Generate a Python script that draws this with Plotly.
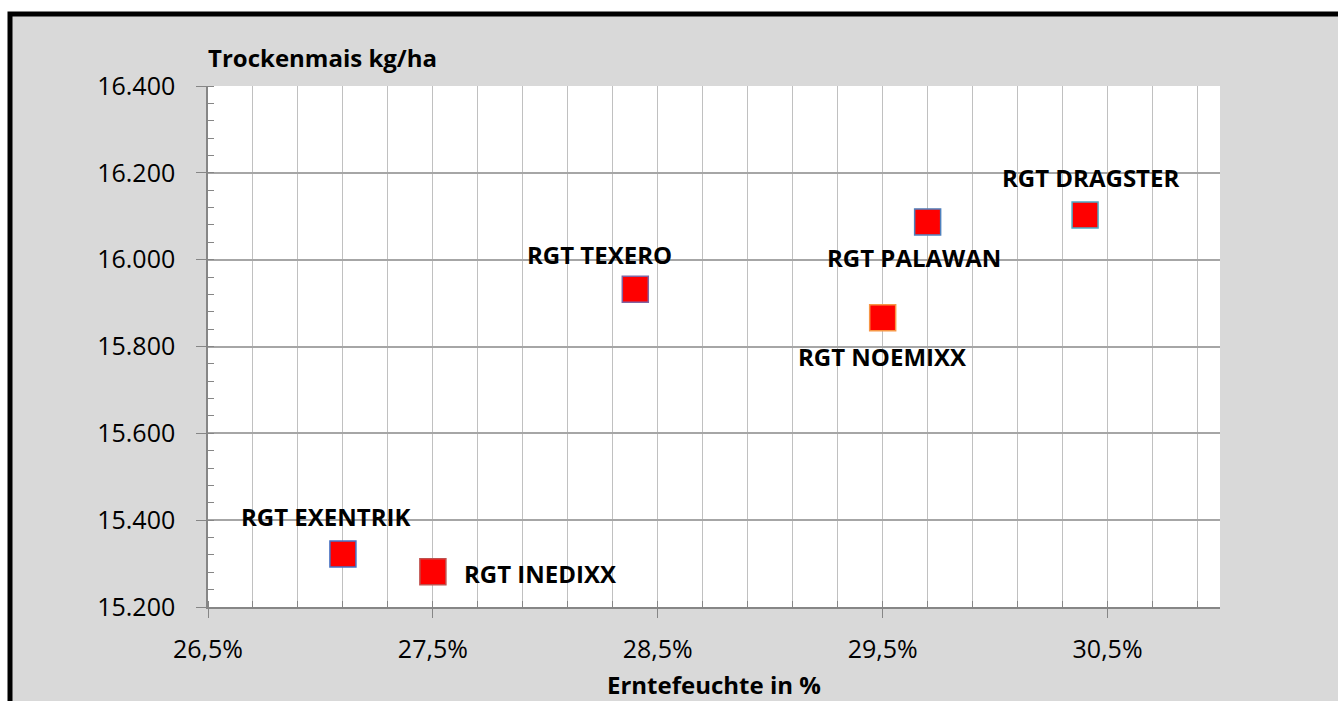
import plotly.graph_objects as go

# Data
varieties = ["RGT EXENTRIK", "RGT INEDIXX", "RGT TEXERO", "RGT NOEMIXX", "RGT PALAWAN", "RGT DRAGSTER"]
moisture = [27.1, 27.5, 28.4, 29.5, 29.7, 30.4]          # Erntefeuchte in %
yield_kg = [15322, 15281, 15932, 15866, 16087, 16103]    # Trockenmais kg/ha
outline_colors = ["#4472C4", "#C0504D", "#8064A2", "#F79646", "#4F81BD", "#4BACC6"]

# label offsets (pixels) relative to each marker
label_dx = [-17, 29, -36, 0, -14, 5]
label_dy = [38, -2, 35, -39, -36, 37]
label_anchor = ["center", "left", "center", "center", "center", "center"]

W, H = 1338, 701
L, R, T, B = 208, 118, 86, 94
pw, ph = W - L - R, H - T - B

def px_x(p):
    return (p - L) / pw

def px_y(p):
    return 1 - (p - T) / ph

FONT = "Open Sans"
LBL = 24
TCK = 25

fig = go.Figure()
fig.add_trace(go.Scatter(
    x=moisture, y=yield_kg, mode="markers",
    marker=dict(symbol="square", size=26, color="#FF0000",
                line=dict(color=outline_colors, width=1.5)),
    hoverinfo="skip", showlegend=False,
))

annotations = []
for name, xv, yv, dx, dy, anc in zip(varieties, moisture, yield_kg, label_dx, label_dy, label_anchor):
    annotations.append(dict(x=xv, y=yv, xref="x", yref="y", text="<b>" + name + "</b>", showarrow=False,
                            xshift=dx, yshift=dy, xanchor=anc, yanchor="middle",
                            font=dict(family=FONT, size=LBL, color="#000000")))

annotations.append(dict(x=px_x(206), y=1, xref="paper", yref="paper", text="<b>Trockenmais kg/ha</b>",
                        showarrow=False, xanchor="left", yanchor="middle", yshift=86 - 57,
                        font=dict(family=FONT, size=LBL, color="#000000")))
annotations.append(dict(x=0.5, y=0, xref="paper", yref="paper", text="<b>Erntefeuchte in %</b>",
                        showarrow=False, xanchor="center", yanchor="middle", yshift=-(684 - 607),
                        font=dict(family=FONT, size=LBL, color="#000000")))

shapes = [
    dict(type="rect", xref="paper", yref="paper", layer="below",
         x0=px_x(10), x1=px_x(W + 20), y0=px_y(H + 20), y1=px_y(14),
         fillcolor="#D9D9D9", line=dict(color="#000000", width=5)),
    dict(type="rect", xref="paper", yref="paper", layer="below",
         x0=0, x1=1, y0=0, y1=1, fillcolor="#FFFFFF", line=dict(width=0)),
]

fig.update_layout(
    width=W, height=H,
    margin=dict(l=L, r=R, t=T, b=B, pad=0),
    paper_bgcolor="#FFFFFF", plot_bgcolor="#FFFFFF",
    separators=",.",
    font=dict(family=FONT, size=TCK, color="#000000"),
    annotations=annotations, shapes=shapes,
    xaxis=dict(range=[26.5, 31.0], tick0=26.5, dtick=1, tickformat=".1f", ticksuffix="%",
               ticks="outside", ticklen=9, tickcolor="#868686", tickwidth=1,
               ticklabelstandoff=10,
               showline=True, linecolor="#868686", linewidth=1.5,
               showgrid=True, gridcolor="#C0C0C0", gridwidth=1, zeroline=False,
               minor=dict(tick0=26.5, dtick=0.2, ticks="inside", ticklen=6, tickcolor="#868686",
                          showgrid=True, gridcolor="#C0C0C0", gridwidth=1),
               tickfont=dict(family=FONT, size=TCK)),
    yaxis=dict(range=[15200, 16400], tick0=15200, dtick=200, tickformat=",d",
               ticks="outside", ticklen=10, tickcolor="#868686", tickwidth=1,
               ticklabelstandoff=16,
               showline=True, linecolor="#868686", linewidth=1.5,
               showgrid=True, gridcolor="#A6A6A6", gridwidth=1.5, zeroline=False,
               minor=dict(tick0=15200, dtick=40, ticks="inside", ticklen=6, tickcolor="#868686",
                          showgrid=False),
               tickfont=dict(family=FONT, size=TCK)),
)

fig.write_html("out.html", config={"displayModeBar": False},
               post_script="document.body.style.margin='0';document.body.style.overflow='hidden';")
